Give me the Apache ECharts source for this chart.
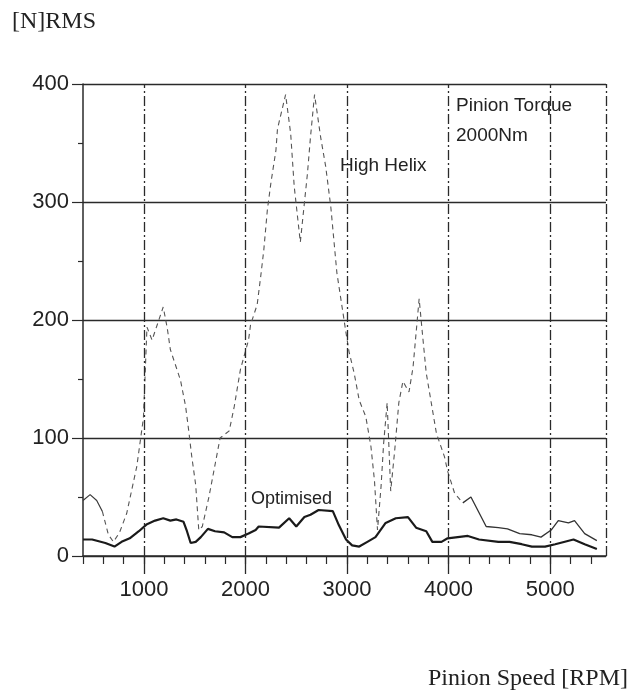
<!DOCTYPE html>
<html>
<head>
<meta charset="utf-8">
<script src="https://cdn.jsdelivr.net/npm/echarts@6/dist/echarts.min.js"></script>
<style>html,body{margin:0;padding:0;background:#fff;}#c{width:631px;height:699px;}</style>
</head>
<body>
<div id="c"></div>
<script>
// ---- data ----
const xMin = 400;
const xMax = 5550;
const xMajorTicks = [1000, 2000, 3000, 4000, 5000];
const yTicks = [0, 100, 200, 300, 400];

const optRpm = [400, 490, 620, 710, 780, 860, 950, 1030, 1110, 1190, 1260, 1320, 1390, 1420, 1460, 1510, 1560, 1630, 1700, 1790, 1870, 1950, 2030, 2100, 2130, 2330, 2430, 2500, 2580, 2640, 2720, 2860, 2920, 2990, 3050, 3120, 3200, 3280, 3380, 3480, 3600, 3680, 3780, 3840, 3930, 3990, 4090, 4190, 4300, 4490, 4600, 4720, 4820, 4950, 5050, 5230, 5340, 5460];
const optVal = [14, 14, 11, 8, 12, 15, 21, 27, 30, 32, 30, 31, 29, 22, 11, 12, 16, 23, 21, 20, 16, 16, 19, 22, 25, 24, 32, 25, 33, 35, 39, 38, 26, 14, 9, 8, 12, 16, 28, 32, 33, 24, 21, 12, 12, 15, 16, 17, 14, 12, 12, 10, 8, 8, 10, 14, 10, 6];

const hhRpm = [400, 470, 535, 590, 650, 700, 760, 830, 930, 995, 1030, 1080, 1190, 1230, 1260, 1360, 1410, 1440, 1470, 1510, 1540, 1575, 1640, 1750, 1840, 1890, 1950, 2030, 2050, 2115, 2150, 2180, 2215, 2250, 2300, 2315, 2395, 2445, 2480, 2540, 2610, 2640, 2680, 2740, 2790, 2840, 2900, 2990, 3020, 3070, 3120, 3185, 3235, 3270, 3300, 3335, 3360, 3395, 3430, 3470, 3510, 3550, 3610, 3650, 3710, 3745, 3780, 3880, 3960, 3990, 4060, 4140, 4220, 4370, 4490, 4580, 4700, 4820, 4910, 5010, 5080, 5180, 5240, 5340, 5460];
const hhVal = [47, 52, 47, 38, 18, 12, 20, 36, 76, 117, 194, 183, 211, 193, 175, 149, 127, 107, 85, 60, 22, 25, 50, 100, 106, 127, 158, 183, 196, 213, 237, 259, 293, 316, 344, 362, 391, 358, 313, 266, 324, 355, 391, 355, 330, 296, 240, 189, 173, 155, 132, 118, 93, 64, 22, 59, 95, 130, 55, 90, 130, 148, 139, 160, 218, 186, 155, 104, 84, 72, 53, 45, 50, 25, 24, 23, 19, 18, 16, 22, 30, 28, 30, 19, 13];

const labelOptimised = 'Optimised';
const labelHighHelix = 'High Helix';

// ---- build ----
const zip = (a, b) => a.map((v, i) => [v, b[i]]);
const hh = zip(hhRpm, hhVal);
const solidStartEnd = hhRpm.indexOf(590);
const solidTailStart = hhRpm.indexOf(4140);
const minorTicks = [];
for (let v = xMin; v <= 5400; v += 200) minorTicks.push(v);

const ink = '#2a2a2a';
const sans = '"Liberation Sans", Arial, sans-serif';
const serif = '"Liberation Serif", "Times New Roman", serif';
const plain = v => String(v);

const chart = echarts.init(document.getElementById('c'), null, {renderer: 'canvas'});
chart.setOption({
  animation: false,
  backgroundColor: '#fff',
  grid: {left: 83, right: 25, top: 84, bottom: 143},
  xAxis: [
    {
      type: 'value', min: xMin, max: xMax, position: 'bottom',
      axisLine: {show: true, onZero: false, lineStyle: {color: ink, width: 1.5}},
      axisTick: {show: true, length: 8, customValues: minorTicks, lineStyle: {color: ink, width: 1.2}},
      axisLabel: {show: false},
      splitLine: {show: false}
    },
    {
      type: 'value', min: xMin, max: xMax, position: 'bottom',
      axisLine: {show: false, onZero: false},
      axisTick: {show: true, length: 18, customValues: xMajorTicks, lineStyle: {color: ink, width: 1.3}},
      axisLabel: {show: true, customValues: xMajorTicks, formatter: plain, fontSize: 22, margin: 23, color: '#222', fontFamily: sans},
      splitLine: {show: false}
    }
  ],
  yAxis: {
    type: 'value', min: 0, max: 400, interval: 100,
    axisLine: {show: true, lineStyle: {color: ink, width: 1.5}},
    axisTick: {show: true, length: 11, lineStyle: {color: ink, width: 1.2}},
    minorTick: {show: true, splitNumber: 2, length: 5, lineStyle: {color: ink, width: 1.2}},
    axisLabel: {fontSize: 22, margin: 14, color: '#222', fontFamily: sans, formatter: plain},
    splitLine: {show: true, lineStyle: {color: ink, width: 1.3}}
  },
  series: [
    {
      name: labelHighHelix + ' (a)', type: 'line', xAxisIndex: 0, symbol: 'none',
      data: hh.slice(0, solidStartEnd + 1),
      lineStyle: {color: '#3a3a3a', width: 1.2, type: 'solid'}
    },
    {
      name: labelHighHelix, type: 'line', xAxisIndex: 0, symbol: 'none',
      data: hh.slice(solidStartEnd, solidTailStart + 1),
      lineStyle: {color: '#555', width: 1.1, type: [5, 4]}
    },
    {
      name: labelHighHelix + ' (b)', type: 'line', xAxisIndex: 0, symbol: 'none',
      data: hh.slice(solidTailStart),
      lineStyle: {color: '#333', width: 1.3, type: 'solid'}
    },
    {
      name: labelOptimised, type: 'line', xAxisIndex: 0, symbol: 'none',
      data: zip(optRpm, optVal),
      lineStyle: {color: '#1a1a1a', width: 2.2},
      markLine: {
        silent: true, symbol: ['none', 'none'], label: {show: false},
        lineStyle: {color: ink, width: 1.3, type: [10, 3, 2, 3]},
        data: xMajorTicks.concat([xMax]).map(v => ({xAxis: v}))
      }
    }
  ],
  graphic: [
    {type: 'text', left: 12, top: 10, style: {text: '[N]RMS', font: '24px ' + serif, fill: '#222'}},
    {type: 'text', left: 456, top: 96, style: {text: 'Pinion Torque', font: '19px ' + sans, fill: '#222'}},
    {type: 'text', left: 456, top: 126, style: {text: '2000Nm', font: '19px ' + sans, fill: '#222'}},
    {type: 'text', left: 340, top: 156, style: {text: labelHighHelix, font: '19px ' + sans, fill: '#222'}},
    {type: 'text', left: 251, top: 490, style: {text: labelOptimised, font: '18px ' + sans, fill: '#222'}},
    {type: 'text', right: 3, top: 667, style: {text: 'Pinion Speed [RPM]', font: '24px ' + serif, fill: '#222'}}
  ]
});
</script>
</body>
</html>
